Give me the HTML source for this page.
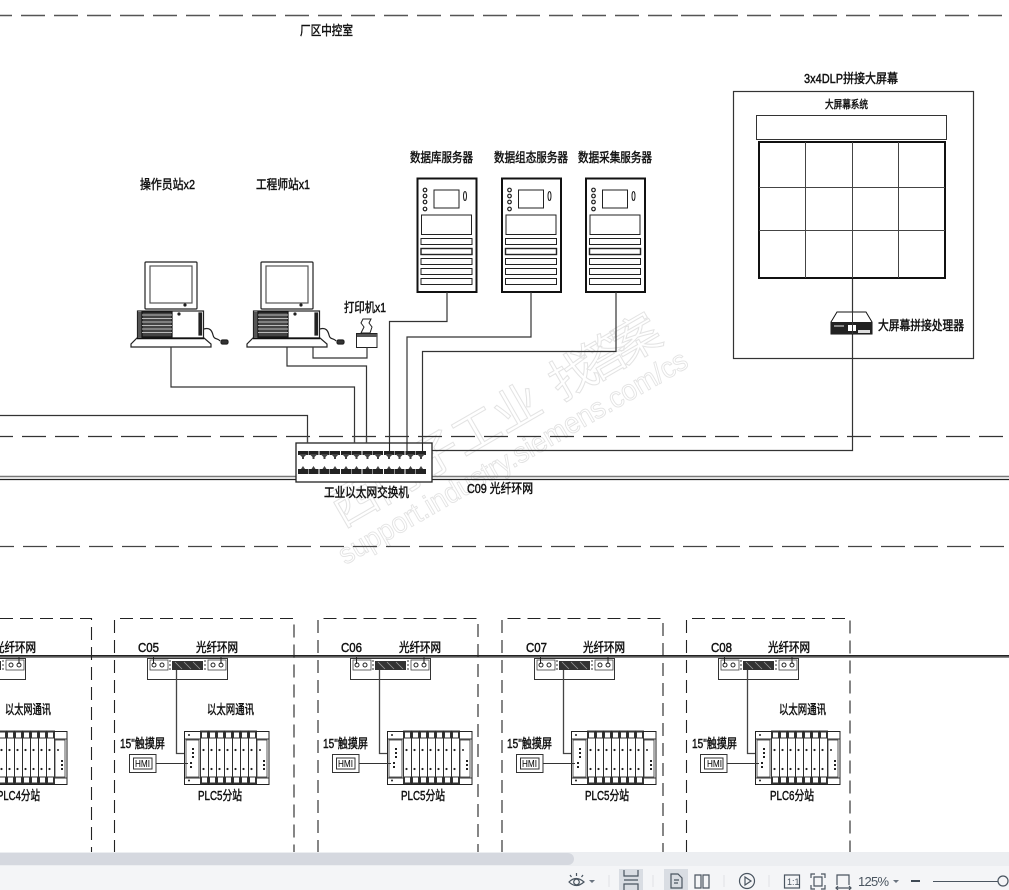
<!DOCTYPE html>
<html><head><meta charset="utf-8"><style>
html,body{margin:0;padding:0;background:#fff;width:1009px;height:890px;overflow:hidden}
svg{display:block}
text{font-family:"Liberation Sans","Noto Sans CJK SC",sans-serif;fill:#111;font-size:13px;stroke:#111;stroke-width:.45px}
.wm{fill:none;stroke:#e3e3e3;stroke-width:1px}
.ui{fill:#4a5560;stroke:none;font-size:13px}
</style></head><body>
<svg width="1009" height="890" viewBox="0 0 1009 890" xmlns="http://www.w3.org/2000/svg">
<defs>
<g id="pc" fill="#fff" stroke="#222" stroke-width="1.200">
 <rect x="145" y="262" width="52" height="47" rx="1"/>
 <rect x="150" y="266" width="42" height="37" stroke="#555"/>
 <circle cx="185" cy="305" r="1" fill="#111"/>
 <rect x="137.500" y="311" width="66" height="27"/>
 <rect x="138" y="312" width="4" height="25" fill="#555" stroke="none"/>
 <rect x="142" y="312" width="30" height="25" fill="#444" stroke="#111"/>
 <path d="M142 315H172M142 318.500H172M142 322H172M142 325.500H172M142 329H172M142 332.500H172" stroke="#bbb" stroke-width=".9"/>
 <rect x="199" y="313" width="2.500" height="22" fill="#222"/>
 <circle cx="179" cy="314" r="1" fill="#111"/>
 <path d="M137 338H204L211 344V347H131V344Z"/>
 <path d="M137 338.500H204" stroke="#111" stroke-width="1.600"/>
 <path d="M204 329C210 327 212 331 213 335C214 340 218 338 220 341" fill="none"/>
 <rect x="221" y="340" width="7" height="4" rx="1.500" fill="#333"/>
</g>
<g id="srv" fill="#fff" stroke="#222" stroke-width="1">
 <rect x="417.500" y="178.500" width="59" height="113.500" stroke-width="2" stroke="#111"/>
 <circle cx="425" cy="190" r="1.800" stroke-width="1.200"/><circle cx="425" cy="196" r="1.800" stroke-width="1.200"/><circle cx="425" cy="202" r="1.800" stroke-width="1.200"/><circle cx="425" cy="209" r="1.800" stroke-width="1.200"/>
 <rect x="434" y="190" width="25" height="18"/>
 <ellipse cx="465" cy="196" rx="1.500" ry="4.500"/>
 <rect x="421.500" y="215" width="50" height="19.500"/>
 <rect x="421" y="238.500" width="51" height="6"/>
 <rect x="421" y="248.500" width="51" height="6" stroke-width="1.400"/>
 <rect x="421" y="258.500" width="51" height="6"/>
 <rect x="421" y="268.500" width="51" height="6"/>
 <rect x="421" y="278.500" width="51" height="6"/>
</g>
<g id="pt"><rect x="0" y="0" width="10" height="4" fill="#222"/><path d="M1 3H9L6 6V8H4V6Z" fill="#444"/></g>
<g id="pb"><rect x="0" y="3" width="10" height="5" fill="#222"/><path d="M3 3L5 0L7 3Z" fill="#444"/></g>
<g id="ports">
 <use href="#pt" x="0"/><use href="#pt" x="10.500"/>
 <use href="#pb" y="15"/><use href="#pb" x="10.500" y="15"/>
</g>
<g id="mod">
 <rect x="0" y="0" width="8" height="53" fill="#fff" stroke="#222" stroke-width=".9"/>
 <rect x="1" y="1" width="6" height="6" fill="#fff" stroke="#333" stroke-width="1"/>
 <rect x="1" y="46" width="6" height="6" fill="#fff" stroke="#333" stroke-width="1"/>
 <circle cx="3" cy="19" r="1.100" fill="#222"/><circle cx="3" cy="38" r="1.100" fill="#222"/>
</g>
<g id="plc">
 <rect x=".5" y=".5" width="84.500" height="53" fill="#fff" stroke="#222"/>
 <path d="M1 8H85M1 47H85" stroke="#333" stroke-width="1"/>
 <rect x="2" y="9" width="13" height="37" fill="#fff" stroke="#333" stroke-width=".8"/>
 <circle cx="5" cy="4" r="1" fill="#222"/><circle cx="5" cy="49.500" r="1" fill="#222"/>
 <rect x="8" y="17" width="2" height="2" fill="#222"/><rect x="8" y="21" width="2" height="2" fill="#222"/><rect x="8" y="25" width="2" height="2" fill="#222"/><rect x="6" y="31" width="2" height="2" fill="#222"/><rect x="6" y="35" width="2" height="2" fill="#222"/>
 <use href="#mod" x="16.500"/><use href="#mod" x="24.500"/><use href="#mod" x="32.500"/><use href="#mod" x="40.500"/><use href="#mod" x="48.500"/><use href="#mod" x="56.500"/><use href="#mod" x="64.500"/>
 <rect x="73" y="9" width="10" height="37" fill="#fff" stroke="#333" stroke-width=".8"/>
 <circle cx="76" cy="19" r="1" fill="#222"/><rect x="79" y="29" width="2" height="2" fill="#222"/><rect x="79" y="33" width="2" height="2" fill="#222"/><rect x="79" y="37" width="2" height="2" fill="#222"/>
</g>
<g id="coup">
 <rect x="147.500" y="658.500" width="80" height="21" fill="#fff" stroke="#333"/>
 <rect x="150" y="660" width="18" height="10" fill="#fff" stroke="#444" stroke-width=".8"/>
 <rect x="208" y="660" width="18" height="10" fill="#fff" stroke="#444" stroke-width=".8"/>
 <circle cx="154" cy="665" r="2" fill="#fff" stroke="#222"/><circle cx="162" cy="665" r="2" fill="#fff" stroke="#222"/>
 <circle cx="213" cy="665" r="2" fill="#fff" stroke="#222"/><circle cx="221" cy="665" r="2" fill="#fff" stroke="#222"/>
 <path d="M153.500 657V664M221 657V664" stroke="#222"/>
 <rect x="172" y="661" width="31" height="9" fill="#333"/>
 <path d="M175 662L182 669M184 662L191 669M193 662L200 669" stroke="#999" stroke-width=".8"/>
 <path d="M170 660V671M205 660V671" stroke="#333" stroke-dasharray="2 2"/>
 <path d="M176.500 670V753.500H186" fill="none" stroke="#444" stroke-width="1.300"/>
 <use href="#plc" x="184" y="731"/>
 <rect x="129.500" y="754.500" width="26.500" height="18" fill="#fff" stroke="#333"/>
 <rect x="133.500" y="758" width="18.500" height="11" fill="#fff" stroke="#333"/>
 <path d="M156 763.500H188" stroke="#333"/>
</g>
</defs>

<rect width="1009" height="890" fill="#fff"/>

<!-- watermark -->
<g transform="rotate(-30 340 530)">
 <text class="wm" x="343" y="529" style="font-size:47px" textLength="235" lengthAdjust="spacing">西门子工业</text>
 <text class="wm" x="596" y="529" style="font-size:47px" textLength="120" lengthAdjust="spacing">找答案</text>
 <text class="wm" x="327" y="563" style="font-size:29px;stroke-width:.9px" textLength="398" lengthAdjust="spacingAndGlyphs">support.industry.siemens.com/cs</text>
</g>

<!-- zone dashes -->
<g fill="none" stroke-dasharray="24 9">
 <path d="M-12 15.500H1009" stroke="#555" stroke-width="1.500"/>
 <path d="M-11 436.500H1009" stroke="#333" stroke-width="1.200"/>
 <path d="M-10 546.500H1009" stroke="#444" stroke-width="1.200"/>
</g>

<!-- computers -->
<use href="#pc"/>
<use href="#pc" x="116"/>
<!-- printer -->
<path d="M363 319H371L369 323L372 327L370 333H361L364 327L361 323Z" fill="#fff" stroke="#222"/>
<rect x="356.500" y="333.500" width="20.500" height="14" fill="#fff" stroke="#222"/>
<rect x="357" y="334" width="20" height="3" fill="#555"/>
<!-- servers -->
<use href="#srv"/><use href="#srv" x="84.500"/><use href="#srv" x="168.500"/>

<!-- connectors -->
<g fill="none" stroke="#333" stroke-width="1.200">
 <path d="M171 347V387H354.500V443"/>
 <path d="M287 347V366H366.500V443"/>
 <path d="M313 347V358H367V347"/>
 <path d="M0 415.500H307.500V443"/>
 <path d="M447 292V321.500H389.500V452"/>
 <path d="M531 292V337H407V452"/>
 <path d="M616 292V351.500H422.500V452"/>
 <path d="M432 450.500H852.500V278"/>
</g>
<g fill="none" stroke="#333">
 <path d="M0 476.500H296M432 476.500H1009" stroke="#777" stroke-width="1.500"/>
 <path d="M0 479.500H296M432 479.500H1009" stroke="#222" stroke-width="1.300"/>
</g>

<!-- switch -->
<rect x="296" y="443" width="136" height="39" fill="#fff" stroke="#222" stroke-width="1.300"/>
<path d="M307.500 436V443M354.500 436V443M366.500 436V443" stroke="#444" stroke-width="1.200"/>
<g transform="translate(298 451)">
 <use href="#ports"/><use href="#ports" x="21.500"/><use href="#ports" x="43"/><use href="#ports" x="64.500"/><use href="#ports" x="86"/><use href="#ports" x="107.500"/>
</g>
<path d="M389.500 443V452M407 443V452M422.500 443V452" stroke="#222" stroke-width="1.100"/>

<!-- big screen -->
<rect x="733.500" y="91.500" width="240" height="267" fill="none" stroke="#333" stroke-width="1.200"/>
<rect x="756.500" y="115.500" width="190" height="24" fill="#fff" stroke="#333"/>
<rect x="759" y="142" width="186" height="136" fill="#fff" stroke="#111" stroke-width="2"/>
<path d="M805.500 142V278M852.500 142V278M898.500 142V278M759 187.500H945M759 230.500H945" stroke="#444" fill="none"/>
<path d="M831 322L837 312H866L872 322V334H831Z" fill="#fff" stroke="#111"/>
<rect x="831" y="322" width="41" height="12" fill="#222"/>
<rect x="848" y="325" width="8" height="6" fill="#fff"/>
<rect x="858" y="330" width="12" height="3" fill="#ddd"/>
<rect x="834" y="325" width="10" height="2" fill="#888"/>
<path d="M852.500 308V334" stroke="#333"/>

<!-- ring -->
<rect x="0" y="655" width="1009" height="1.500" fill="#222"/>
<rect x="0" y="656.500" width="1009" height="1.500" fill="#888"/>

<!-- stations -->
<g fill="none" stroke="#222" stroke-width="1.100" stroke-dasharray="13 7">
 <path d="M-60 618.500H91.500V853"/>
 <path d="M114.500 853V618.500H294V853"/>
 <path d="M318 853V618.500H478V853"/>
 <path d="M502 853V618.500H663V853"/>
 <path d="M686.500 853V618.500H850V853"/>
</g>
<use href="#coup" x="-202"/>
<use href="#coup"/>
<use href="#coup" x="203"/>
<use href="#coup" x="387"/>
<use href="#coup" x="571"/>

<!-- labels -->
<text x="300" y="35" textLength="53" lengthAdjust="spacingAndGlyphs">厂区中控室</text>
<text x="804" y="83" textLength="94" lengthAdjust="spacingAndGlyphs">3x4DLP拼接大屏幕</text>
<text x="825" y="108" style="font-size:11px" textLength="43" lengthAdjust="spacingAndGlyphs">大屏幕系统</text>
<text x="410" y="162" textLength="63" lengthAdjust="spacingAndGlyphs">数据库服务器</text>
<text x="494" y="162" textLength="74" lengthAdjust="spacingAndGlyphs">数据组态服务器</text>
<text x="578" y="162" textLength="74" lengthAdjust="spacingAndGlyphs">数据采集服务器</text>
<text x="140" y="189" textLength="55" lengthAdjust="spacingAndGlyphs">操作员站x2</text>
<text x="256" y="189" textLength="54" lengthAdjust="spacingAndGlyphs">工程师站x1</text>
<text x="344" y="312" textLength="42" lengthAdjust="spacingAndGlyphs">打印机x1</text>
<text x="878" y="330" textLength="86" lengthAdjust="spacingAndGlyphs">大屏幕拼接处理器</text>
<text x="324" y="497" textLength="85" lengthAdjust="spacingAndGlyphs">工业以太网交换机</text>
<text x="467" y="493" textLength="66" lengthAdjust="spacingAndGlyphs">C09 光纤环网</text>

<text x="-6" y="652" textLength="42" lengthAdjust="spacingAndGlyphs">光纤环网</text>
<text x="5" y="714" textLength="46" lengthAdjust="spacingAndGlyphs">以太网通讯</text>
<text x="-3" y="800" textLength="43" lengthAdjust="spacingAndGlyphs">PLC4分站</text>

<text x="138" y="652" textLength="21" lengthAdjust="spacingAndGlyphs">C05</text>
<text x="196" y="652" textLength="42" lengthAdjust="spacingAndGlyphs">光纤环网</text>
<text x="207" y="714" textLength="47" lengthAdjust="spacingAndGlyphs">以太网通讯</text>
<text x="120" y="748" textLength="45" lengthAdjust="spacingAndGlyphs">15"触摸屏</text>
<text x="135" y="767" style="font-size:10px;stroke-width:.1px" textLength="15" lengthAdjust="spacingAndGlyphs">HMI</text>
<text x="198" y="800" textLength="44" lengthAdjust="spacingAndGlyphs">PLC5分站</text>

<text x="341" y="652" textLength="21" lengthAdjust="spacingAndGlyphs">C06</text>
<text x="399" y="652" textLength="42" lengthAdjust="spacingAndGlyphs">光纤环网</text>
<text x="323" y="748" textLength="45" lengthAdjust="spacingAndGlyphs">15"触摸屏</text>
<text x="338" y="767" style="font-size:10px;stroke-width:.1px" textLength="15" lengthAdjust="spacingAndGlyphs">HMI</text>
<text x="401" y="800" textLength="44" lengthAdjust="spacingAndGlyphs">PLC5分站</text>

<text x="526" y="652" textLength="21" lengthAdjust="spacingAndGlyphs">C07</text>
<text x="583" y="652" textLength="42" lengthAdjust="spacingAndGlyphs">光纤环网</text>
<text x="507" y="748" textLength="45" lengthAdjust="spacingAndGlyphs">15"触摸屏</text>
<text x="522" y="767" style="font-size:10px;stroke-width:.1px" textLength="15" lengthAdjust="spacingAndGlyphs">HMI</text>
<text x="585" y="800" textLength="44" lengthAdjust="spacingAndGlyphs">PLC5分站</text>

<text x="711" y="652" textLength="21" lengthAdjust="spacingAndGlyphs">C08</text>
<text x="768" y="652" textLength="42" lengthAdjust="spacingAndGlyphs">光纤环网</text>
<text x="779" y="714" textLength="47" lengthAdjust="spacingAndGlyphs">以太网通讯</text>
<text x="692" y="748" textLength="45" lengthAdjust="spacingAndGlyphs">15"触摸屏</text>
<text x="707" y="767" style="font-size:10px;stroke-width:.1px" textLength="15" lengthAdjust="spacingAndGlyphs">HMI</text>
<text x="770" y="800" textLength="44" lengthAdjust="spacingAndGlyphs">PLC6分站</text>

<!-- scrollbar + toolbar -->
<rect x="0" y="852" width="1009" height="14" fill="#eceef1"/>
<rect x="-8" y="853" width="582" height="12" rx="6" fill="#d5d8df"/>
<rect x="0" y="866" width="1009" height="24" fill="#f4f5f7"/>
<g fill="none" stroke="#4a5560" stroke-width="1.200">
 <path d="M569 882Q576 875 584 882Q576 889 569 882Z"/><circle cx="576.500" cy="882" r="2.800"/>
 <path d="M576.500 873V876M570 875L571.500 877M583 875L581.500 877"/>
 <rect x="619" y="869" width="24" height="21" fill="#d9dde3" stroke="none"/>
 <path d="M624 870V876H638V870M624 890V884H638V890M624 880H638"/>
 <rect x="664" y="869" width="24" height="21" fill="#d9dde3" stroke="none"/>
 <path d="M671 874H678L682 878V888H671ZM674 880H679M674 883H678"/>
 <path d="M695 875H701V888H695ZM703 875H709V888H703Z"/>
 <circle cx="747" cy="881" r="7.500"/><path d="M745 877L751 881L745 885Z"/>
 <rect x="784.500" y="875" width="15" height="13"/>
 <path d="M811 878V874H815M821 874H825V878M811 885V889H815M821 889H825V885M814 877H822V886H814Z"/>
 <path d="M837 885V875H849V885M836 888H851M838 886L836 888L838 890M849 886L851 888L849 890"/>
 <path d="M933 881.500H998" stroke-width="1"/>
 <circle cx="1003" cy="881" r="5" fill="#f4f5f7"/>
</g>
<path d="M589 880H595L592 883ZM893 880H899L896 883Z" fill="#6a7480"/>
<path d="M609 875V887M653 875V887M724 875V887M769 875V887" stroke="#dfe1e5"/>
<rect x="911" y="880" width="9" height="2" fill="#3f4a55"/>
<text class="ui" x="787" y="885" style="font-size:9px;stroke:none">1:1</text>
<text class="ui" x="858" y="886" style="stroke:none" textLength="31">125%</text>
</svg>
</body></html>
